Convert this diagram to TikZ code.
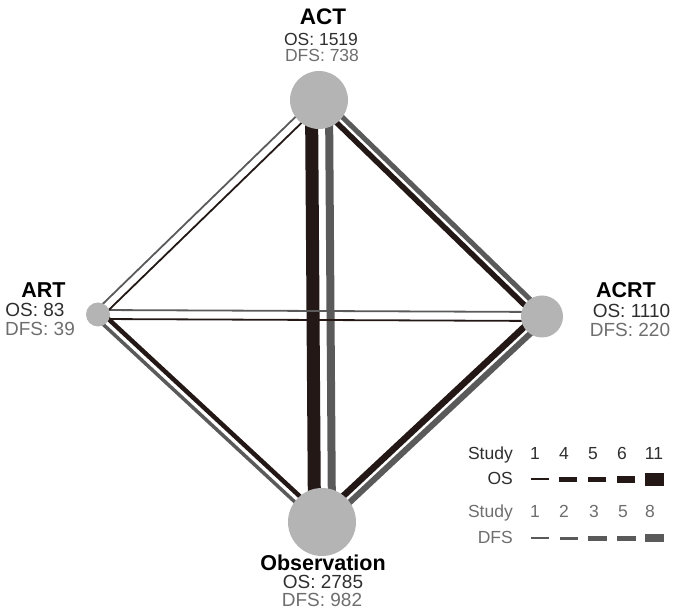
\documentclass[tikz,border=0pt]{standalone}
\usepackage{fontspec}
\setmainfont{Liberation Sans}
\usetikzlibrary{calc, backgrounds}
\definecolor{osblack}{HTML}{231815}
\definecolor{dfsgray}{HTML}{5A5A5A}
\definecolor{armgray}{HTML}{B4B4B4}
\definecolor{labgray}{HTML}{6E6E6E}
\definecolor{labdark}{HTML}{2E2E2E}

\begin{document}
\begin{tikzpicture}[x=1pt, y=1pt]
    \tikzstyle{arm} = [circle, fill=armgray, inner sep=0pt]
    \tikzstyle{armname} = [inner sep=0pt, anchor=base, font=\fontsize{21.5}{24}\selectfont\bfseries]
    \tikzstyle{oslabel} = [inner sep=0pt, anchor=base, text=labdark, font=\fontsize{19}{20}\selectfont]
    \tikzstyle{dfslabel} = [oslabel, text=labgray]
    \tikzstyle{smalllabel} = [font=\fontsize{17.5}{18}\selectfont]
    \tikzstyle{oskey} = [oslabel, smalllabel]
    \tikzstyle{dfskey} = [dfslabel, smalllabel]
    \tikzstyle{osline} = [draw=osblack]
    \tikzstyle{dfsline} = [draw=dfsgray]

    \useasboundingbox (0,0) rectangle (675,613);

    \node (act) [arm, minimum size=58pt] at (319,513) {};
    \node (art) [arm, minimum size=24pt] at (98,298.5) {};
    \node (acrt) [arm, minimum size=42pt] at (542,296.5) {};
    \node (obs) [arm, minimum size=68pt] at (322,91) {};

    % Labels
    \node (actname) [armname, font=\fontsize{22.5}{24}\selectfont\bfseries] at (323,588) {ACT};
    \node (actos) [oslabel, smalllabel] at (321,567.5) {OS: 1519};
    \node (actdfs) [dfslabel, smalllabel] at (322,551) {DFS: 738};
    \node (artname) [armname] at (43.5,315) {ART};
    \node (artos) [oslabel] at (35,296) {OS: 83};
    \node (artdfs) [dfslabel] at (40,277) {DFS: 39};
    \node (acrtname) [armname] at (626,315) {ACRT};
    \node (acrtos) [oslabel] at (631.5,295) {OS: 1110};
    \node (acrtdfs) [dfslabel] at (630,276) {DFS: 220};
    \node (obsname) [armname] at (323,42.5) {Observation};
    \node (obsos) [oslabel] at (323,24.5) {OS: 2785};
    \node (obsdfs) [dfslabel] at (322,6) {DFS: 982};

    % Comparisons
    \begin{scope}[on background layer]
    \draw [osline, line width=13pt] ($(act.center)!7.5pt!-90:(obs.center)$) -- ($(obs.center)!7.5pt!90:(act.center)$);
    \draw [dfsline, line width=8pt] ($(act.center)!10pt!90:(obs.center)$) -- ($(obs.center)!10pt!-90:(act.center)$);
    \draw [osline, line width=1.8pt] ($(art.center)!4.5pt!-90:(acrt.center)$) -- ($(acrt.center)!4.5pt!90:(art.center)$);
    \draw [dfsline, line width=1.8pt] ($(art.center)!4.5pt!90:(acrt.center)$) -- ($(acrt.center)!4.5pt!-90:(art.center)$);
    \draw [osline, line width=1.8pt] ($(act.center)!4.25pt!90:(art.center)$) -- ($(art.center)!4.25pt!-90:(act.center)$);
    \draw [dfsline, line width=1.8pt] ($(act.center)!4.25pt!-90:(art.center)$) -- ($(art.center)!4.25pt!90:(act.center)$);
    \draw [osline, line width=5.5pt] ($(act.center)!4pt!-90:(acrt.center)$) -- ($(acrt.center)!4pt!90:(act.center)$);
    \draw [dfsline, line width=5pt] ($(act.center)!4pt!90:(acrt.center)$) -- ($(acrt.center)!4pt!-90:(act.center)$);
    \draw [osline, line width=4.5pt] ($(art.center)!3.75pt!90:(obs.center)$) -- ($(obs.center)!3.75pt!-90:(art.center)$);
    \draw [dfsline, line width=3.5pt] ($(art.center)!3.75pt!-90:(obs.center)$) -- ($(obs.center)!3.75pt!90:(art.center)$);
    \draw [osline, line width=6.5pt] ($(acrt.center)!4.5pt!-90:(obs.center)$) -- ($(obs.center)!4.5pt!90:(acrt.center)$);
    \draw [dfsline, line width=6pt] ($(acrt.center)!4.5pt!90:(obs.center)$) -- ($(obs.center)!4.5pt!-90:(acrt.center)$);
    \end{scope}

    % Key
    \node (osstudy) [oskey, anchor=base east] at (513,153.7) {Study};
    \node (oskey) [oskey, anchor=base east] at (513,128) {OS};
    \node (dfsstudy) [dfskey, anchor=base east] at (513,95.7) {Study};
    \node (dfskey) [dfskey, anchor=base east] at (513,69.7) {DFS};
    \node (osa) [oskey] at (535,153.7) {1};
    \node (osb) [oskey] at (564,153.7) {4};
    \node (osc) [oskey] at (593,153.7) {5};
    \node (osd) [oskey] at (622,153.7) {6};
    \node (ose) [oskey] at (654,153.7) {11};
    \node (dfsa) [dfskey] at (535,95.7) {1};
    \node (dfsb) [dfskey] at (564,95.7) {2};
    \node (dfsc) [dfskey] at (594,95.7) {3};
    \node (dfsd) [dfskey] at (623,95.7) {5};
    \node (dfse) [dfskey] at (650,95.7) {8};
    \draw [osline, line width=1.8pt] (531,133.7) -- (549,133.7);
    \draw [osline, line width=5pt] (559,133.7) -- (577,133.7);
    \draw [osline, line width=5.5pt] (588,133.7) -- (606,133.7);
    \draw [osline, line width=6.5pt] (617,133.7) -- (635,133.7);
    \draw [osline, line width=13pt] (645,133.7) -- (664,133.7);
    \draw [dfsline, line width=1.8pt] (531,74.7) -- (549,74.7);
    \draw [dfsline, line width=3.5pt] (560,74.7) -- (578,74.7);
    \draw [dfsline, line width=5.5pt] (588,74.7) -- (607,74.7);
    \draw [dfsline, line width=5.5pt] (617,74.7) -- (636,74.7);
    \draw [dfsline, line width=8pt] (645,74.7) -- (664,74.7);
  \end{tikzpicture}
\end{document}
